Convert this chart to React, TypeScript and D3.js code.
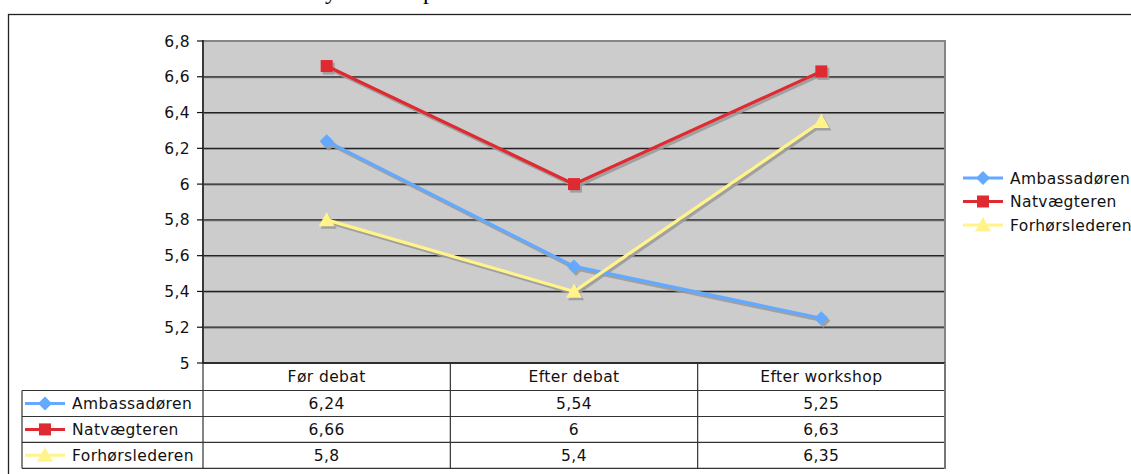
import React from "react";
import * as d3 from "d3";

const categories = ["Før debat", "Efter debat", "Efter workshop"];
const seriesNames = ["Ambassadøren", "Natvægteren", "Forhørslederen"];
const ambassadoren = [6.24, 5.54, 5.25];
const natvaegteren = [6.66, 6, 6.63];
const forhorslederen = [5.8, 5.4, 6.35];
const yTicks = [5, 5.2, 5.4, 5.6, 5.8, 6, 6.2, 6.4, 6.6, 6.8];
const colors = ["#62a9ff", "#df2a31", "#fff38a"];
const markers = ["diamond", "square", "triangle"];

const seriesValues = [ambassadoren, natvaegteren, forhorslederen];
const fmt = (v: number) => String(v).replace(".", ",");
const FONT = "'DejaVu Sans', Verdana, sans-serif";
const FS = 15.5;
const LS = 0.4;

function Marker({ type, x, y, color }: { type: string; x: number; y: number; color: string }) {
  if (type === "diamond") {
    const r = 7;
    return <path d={`M${x},${y - r}L${x + r},${y}L${x},${y + r}L${x - r},${y}Z`} fill={color} />;
  }
  if (type === "square") {
    const s = 12;
    return <rect x={x - s / 2} y={y - s / 2} width={s} height={s} fill={color} />;
  }
  const r = 8;
  return <path d={`M${x},${y - r}L${x + r},${y + r * 0.8}L${x - r},${y + r * 0.8}Z`} fill={color} />;
}

function LegendKey({ i, x, y }: { i: number; x: number; y: number }) {
  return (
    <g>
      <line x1={x} x2={x + 40} y1={y} y2={y} stroke={colors[i]} strokeWidth={3} />
      <Marker type={markers[i]} x={x + 20} y={y} color={colors[i]} />
    </g>
  );
}

export default function App() {
  const W = 1131, H = 474;
  const left = 203, right = 945, top = 41, bottom = 363;
  const x = d3.scaleBand().domain(categories).range([left, right]);
  const y = d3.scaleLinear().domain([5, 6.8]).range([bottom, top]);
  const cx = (c: string) => (x(c) as number) + x.bandwidth() / 2;

  const line = d3
    .line<number>()
    .x((_, i) => cx(categories[i]))
    .y((d) => y(d));

  const rowTops = [363, 390.5, 416.5, 442.3, 468.3];

  return (
    <svg width={W} height={H} style={{ position: "absolute", left: 0, top: 0, background: "#fff" }} fontFamily={FONT} letterSpacing={LS}>
      {/* cut-off title descenders */}
      <text x={325} y={-1} fontFamily="'Liberation Serif', 'DejaVu Serif', serif" fontSize={24} fill="#000" letterSpacing={0}>y</text>
      <text x={423} y={-1} fontFamily="'Liberation Serif', 'DejaVu Serif', serif" fontSize={24} fill="#000" letterSpacing={0}>p</text>

      {/* outer frame */}
      <rect x={8.5} y={14.5} width={W + 20} height={H + 20} fill="none" stroke="#222" strokeWidth={1.3} />

      {/* plot area */}
      <rect x={left} y={top} width={right - left} height={bottom - top} fill="#cccccc" />
      {yTicks.slice(1, -1).map((t) => (
        <g key={t}>
          <line x1={left} x2={right} y1={y(t) + 1} y2={y(t) + 1} stroke="#8a8a8a" strokeWidth={1} />
          <line x1={left} x2={right} y1={y(t)} y2={y(t)} stroke="#222" strokeWidth={1.2} />
        </g>
      ))}
      <rect x={left} y={top} width={right - left} height={bottom - top} fill="none" stroke="#858585" strokeWidth={2} />
      <line x1={left} x2={left} y1={top - 1} y2={bottom} stroke="#111" strokeWidth={1.3} />
      <line x1={left} x2={right} y1={bottom} y2={bottom} stroke="#111" strokeWidth={1.3} />

      {/* y axis */}
      {yTicks.map((t) => (
        <g key={t}>
          <line x1={197} x2={left} y1={y(t)} y2={y(t)} stroke="#111" strokeWidth={1.2} />
          <text x={190} y={y(t)} dy="0.36em" textAnchor="end" fontSize={FS} fill="#111">
            {fmt(t)}
          </text>
        </g>
      ))}

      {/* series shadows */}
      {seriesValues.map((vals, i) => (
        <g key={"s" + i} transform="translate(2,2.5)" opacity={0.9}>
          <path d={line(vals) as string} fill="none" stroke="#9c9c9c" strokeWidth={3.2} />
          {vals.map((v, j) => (
            <Marker key={j} type={markers[i]} x={cx(categories[j])} y={y(v)} color="#9c9c9c" />
          ))}
        </g>
      ))}
      {/* series */}
      {seriesValues.map((vals, i) => (
        <g key={"l" + i}>
          <path d={line(vals) as string} fill="none" stroke={colors[i]} strokeWidth={3.2} />
          {vals.map((v, j) => (
            <Marker key={j} type={markers[i]} x={cx(categories[j])} y={y(v)} color={colors[i]} />
          ))}
        </g>
      ))}

      {/* right legend */}
      {seriesNames.map((n, i) => {
        const ly = 178 + i * 23.5;
        return (
          <g key={n}>
            <LegendKey i={i} x={963} y={ly} />
            <text x={1010} y={ly} dy="0.36em" fontSize={FS} fill="#111">{n}</text>
          </g>
        );
      })}

      {/* data table */}
      <g stroke="#333" strokeWidth={1.2}>
        {rowTops.slice(1).map((ry) => (
          <line key={ry} x1={22} x2={right} y1={ry} y2={ry} />
        ))}
        <line x1={22} x2={22} y1={rowTops[1]} y2={rowTops[4]} />
        <line x1={left} x2={left} y1={bottom} y2={rowTops[4]} />
        {categories.slice(1).map((c) => (
          <line key={c} x1={x(c) as number} x2={x(c) as number} y1={bottom} y2={rowTops[4]} />
        ))}
      </g>
      <line x1={right} x2={right} y1={bottom} y2={rowTops[4] + 0.7} stroke="#777" strokeWidth={2} />
      {categories.map((c) => (
        <text key={c} x={cx(c)} y={(rowTops[0] + rowTops[1]) / 2} dy="0.36em" textAnchor="middle" fontSize={FS} fill="#111">
          {c}
        </text>
      ))}
      {seriesNames.map((n, i) => {
        const ry = (rowTops[i + 1] + rowTops[i + 2]) / 2;
        return (
          <g key={n}>
            <LegendKey i={i} x={25} y={ry} />
            <text x={72} y={ry} dy="0.36em" fontSize={FS} fill="#111">{n}</text>
            {seriesValues[i].map((v, j) => (
              <text key={j} x={cx(categories[j])} y={ry} dy="0.36em" textAnchor="middle" fontSize={FS} fill="#111">
                {fmt(v)}
              </text>
            ))}
          </g>
        );
      })}
    </svg>
  );
}
